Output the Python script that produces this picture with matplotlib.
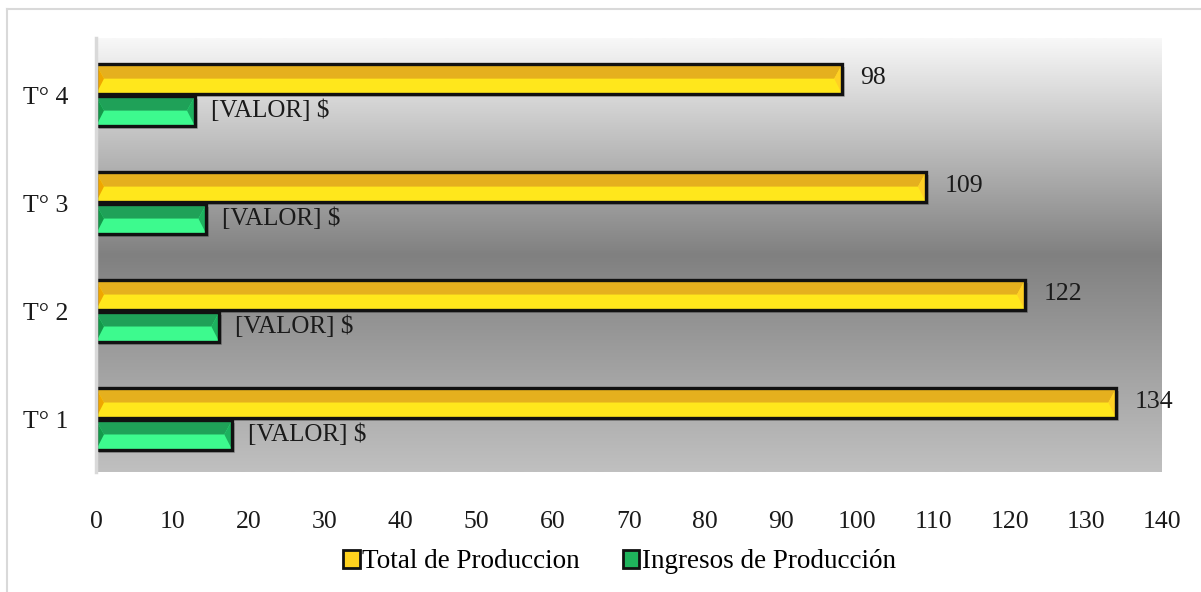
import numpy as np
import matplotlib
matplotlib.use("Agg")
import matplotlib.pyplot as plt
from matplotlib.patches import Polygon, Rectangle
from matplotlib.colors import to_rgb

plt.rcParams["font.family"] = ["Liberation Serif", "DejaVu Serif"]

# Datos
categorias = ["T° 1", "T° 2", "T° 3", "T° 4"]
total_produccion = [134, 122, 109, 98]
ingresos_produccion = [17.9, 16.2, 14.5, 13.0]
etiqueta_ingresos = "[VALOR] $"
serie_total = "Total de Produccion"
serie_ingresos = "Ingresos de Producción"
xticks = list(range(0, 141, 10))

FS = 18.5
H = 0.278
OFF = 0.148

AMARILLO = dict(top="#E5B01E", bot="#FFE71C", left="#EFA600", right="#FFD024")
VERDE = dict(top="#1FA158", bot="#3DFA8E", left="#14984A", right="#1DB15E")


def barras_bisel(ax, ys, vals, col, edge):
    bx = 1.05
    # sombra
    ax.barh(ys - 0.03, vals, height=H, left=0.35, color="black", alpha=0.18,
            zorder=2, lw=0)
    ax.barh(ys, vals, height=H, color=col["bot"], lw=0, zorder=3)
    for y, w in zip(ys, vals):
        yb, yt = y - H / 2, y + H / 2
        ym = y + H * 0.02
        ax.add_patch(Polygon([(0, yt), (w, yt), (w - bx, ym), (bx, ym)],
                             closed=True, fc=col["top"], lw=0, zorder=4))
        ax.add_patch(Polygon([(0, yt), (bx, ym), (0, yb)],
                             closed=True, fc=col["left"], lw=0, zorder=4))
        ax.add_patch(Polygon([(w, yt), (w - bx, ym), (w, yb)],
                             closed=True, fc=col["right"], lw=0, zorder=4))
    ax.barh(ys, vals, height=H, fill=False, edgecolor=edge, lw=2.4, zorder=5)


fig = plt.figure(figsize=(12.01, 5.92), dpi=100)
ax = fig.add_axes([96 / 1201, 1 - 472 / 592, (1162 - 96) / 1201, (472 - 38) / 592])

# fondo degradado
stops = [(0.0, "#f8f8f8"), (0.5, "#808080"), (1.0, "#c0c0c0")]
t = np.linspace(0, 1, 400)
grad = np.zeros((400, 1, 3))
for k in range(3):
    grad[:, 0, k] = np.interp(t, [s[0] for s in stops], [to_rgb(s[1])[k] for s in stops])
ax.imshow(grad, extent=[0, 1, 0, 1], transform=ax.transAxes, aspect="auto", zorder=0)

y = np.arange(len(categorias))
barras_bisel(ax, y + OFF, total_produccion, AMARILLO, "#111111")
barras_bisel(ax, y - OFF, ingresos_produccion, VERDE, "#111111")

for yi, v in zip(y, total_produccion):
    ax.text(v + 2.4, yi + OFF + 0.01, str(v), va="center", ha="left", fontsize=FS,
            color="#1a1a1a", zorder=6)
for yi, v in zip(y, ingresos_produccion):
    ax.text(v + 2.1, yi - OFF, etiqueta_ingresos, va="center", ha="left",
            fontsize=FS - 0.5, color="#1a1a1a", zorder=6)

ax.set_xlim(0, 140)
ax.set_ylim(-0.49, 3.53)
ax.set_xticks(xticks)
ax.set_xticklabels([str(v) for v in xticks], fontsize=FS, color="#1a1a1a")
ax.set_yticks(y)
ax.set_yticklabels(categorias, fontsize=FS, color="#1a1a1a")
ax.tick_params(axis="x", length=0, pad=28)
ax.tick_params(axis="y", length=0, pad=20)
for s in ["top", "right", "bottom"]:
    ax.spines[s].set_visible(False)
ax.spines["left"].set_color("#d9d9d9")
ax.spines["left"].set_linewidth(2.5)
ax.spines["left"].set_zorder(7)

# leyenda
h1 = Rectangle((0, 0), 1, 1, fc="#FFD21E", ec="#111111", lw=2)
h2 = Rectangle((0, 0), 1, 1, fc="#1FB35C", ec="#111111", lw=2)
fig.legend([h1, h2], [serie_total, serie_ingresos], loc="center",
           bbox_to_anchor=(0.516, 1 - 562 / 592), ncol=2, frameon=False,
           fontsize=19.5, handlelength=0.6, handleheight=0.6, handletextpad=0.1,
           columnspacing=1.6)

# borde exterior
fig.add_artist(plt.Line2D([6.5 / 1201, 6.5 / 1201], [0, 1 - 9 / 592], color="#d9d9d9",
                          lw=1.5, transform=fig.transFigure))
fig.add_artist(plt.Line2D([6.5 / 1201, 1], [1 - 9 / 592, 1 - 9 / 592], color="#d9d9d9",
                          lw=1.5, transform=fig.transFigure))

fig.savefig("out.png", dpi=100, facecolor="white")
